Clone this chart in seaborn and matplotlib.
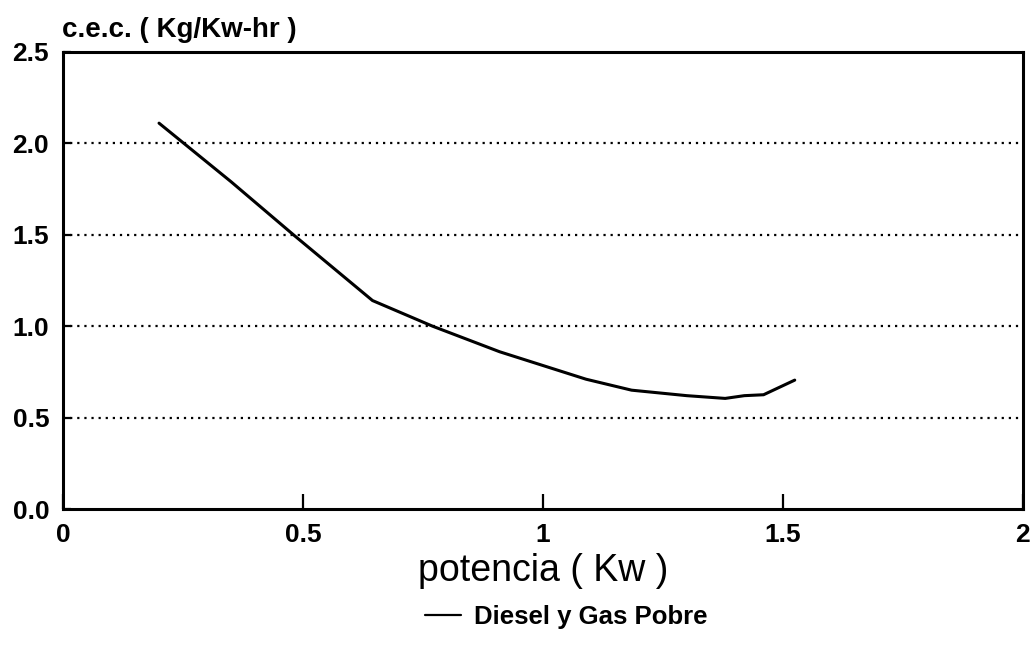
import numpy as np
import pandas as pd
import matplotlib
import matplotlib.pyplot as plt
import seaborn as sns

matplotlib.use('Agg')

# --- data ---
potencia = [0.20, 0.35, 0.48, 0.645, 0.77, 0.91, 1.09, 1.185, 1.30, 1.38, 1.42, 1.46, 1.525]
consumo = [2.11, 1.79, 1.50, 1.14, 1.00, 0.86, 0.71, 0.65, 0.62, 0.605, 0.62, 0.625, 0.705]
serie = 'Diesel y Gas Pobre'

x_ticks = [0, 0.5, 1, 1.5, 2]
x_labels = ['0', '0.5', '1', '1.5', '2']
y_ticks = [0.0, 0.5, 1.0, 1.5, 2.0, 2.5]
y_labels = ['0.0', '0.5', '1.0', '1.5', '2.0', '2.5']

df = pd.DataFrame({'potencia': potencia, 'consumo': consumo, 'serie': serie})

sns.set_theme(style='white')
plt.rcParams['font.family'] = ['Liberation Sans', 'DejaVu Sans']
plt.rcParams['text.color'] = 'black'
plt.rcParams['axes.labelcolor'] = 'black'
plt.rcParams['xtick.color'] = 'black'
plt.rcParams['ytick.color'] = 'black'

fig = plt.figure(figsize=(10.34, 6.56), dpi=100)
ax = fig.add_axes([0.061, 0.224, 0.928, 0.697])

sns.lineplot(data=df, x='potencia', y='consumo', hue='serie', palette=['black'],
             linewidth=2.2, ax=ax, legend=False, sort=False)

ax.set_xlim(0, 2)
ax.set_ylim(0, 2.5)

# dotted horizontal grid
for yv in y_ticks[1:-1]:
    ax.axhline(yv, color='black', linestyle=(0, (1, 2.2)), linewidth=1.6, zorder=0)

ax.set_xticks(x_ticks)
ax.set_xticklabels(x_labels, fontsize=19, fontweight='bold')
ax.set_yticks(y_ticks)
ax.set_yticklabels(y_labels, fontsize=19, fontweight='bold')
ax.tick_params(axis='x', direction='in', length=11, width=1.6, pad=10, bottom=True)
ax.tick_params(axis='y', direction='in', length=6, width=1.6, pad=10, left=True)

for s in ax.spines.values():
    s.set_color('black')
    s.set_linewidth(2.2)

ax.set_xlabel('potencia ( Kw )', fontsize=27, labelpad=4)
ax.set_ylabel('')
fig.text(0.060, 0.935, 'c.e.c. ( Kg/Kw-hr )', fontsize=20, fontweight='bold',
         ha='left', va='bottom')

handle = plt.Line2D([], [], color='black', linewidth=1.6)
fig.legend([handle], [serie], loc='center', bbox_to_anchor=(0.548, 0.06),
           frameon=False, handlelength=1.4, handletextpad=0.5,
           prop={'size': 18.5, 'weight': 'bold'})

fig.savefig('out.png', dpi=100, facecolor='white')
plt.close(fig)
